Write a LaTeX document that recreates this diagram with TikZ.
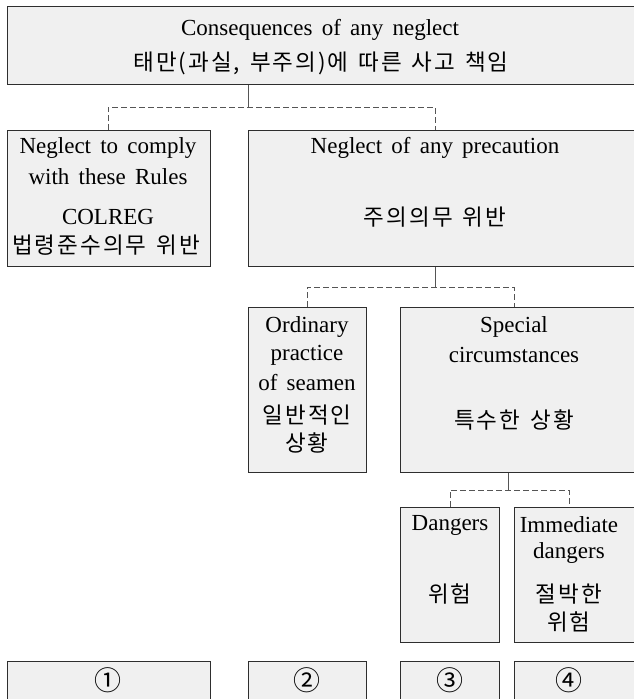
\documentclass[tikz,border=0pt]{standalone}
\usepackage{fontspec}
\setmainfont[WordSpace=1.6]{Liberation Serif}
\newfontfamily\kr[LetterSpace=9,WordSpace=1.4]{Noto Sans CJK KR}
\newfontfamily\circnum{Noto Sans CJK KR}
\usepackage{tikz}

\definecolor{boxfill}{HTML}{F0F0F0}
\definecolor{boxline}{HTML}{2E2E2E}
\definecolor{dashline}{HTML}{555555}

\begin{document}
\begin{tikzpicture}[x=1pt,y=-1pt,
  box/.style={draw=boxline,fill=boxfill,line width=0.9pt,inner sep=0pt,anchor=north west},
  txt/.style={inner sep=0pt,font=\fontsize{23}{27}\selectfont},
  krtxt/.style={inner sep=0pt,font=\kr\fontsize{22.5}{27}\selectfont},
  numtxt/.style={inner sep=0pt,font=\circnum\fontsize{27}{30}\selectfont},
  stem/.style={draw=dashline,line width=0.9pt},
  branch/.style={draw=dashline,line width=0.9pt,dash pattern=on 6pt off 3pt}]
\useasboundingbox (0,0) rectangle (634,699);
\clip (0,0) rectangle (634,699);

% boxes
\node[box,minimum width=640pt,minimum height=78pt] (top) at (7,6) {};
\node[box,minimum width=203pt,minimum height=136pt] (a) at (7,130) {};
\node[box,minimum width=400pt,minimum height=136pt] (b) at (248,130) {};
\node[box,minimum width=118pt,minimum height=165pt] (c) at (248,307) {};
\node[box,minimum width=240pt,minimum height=165pt] (d) at (400,307) {};
\node[box,minimum width=99pt,minimum height=135pt] (e) at (400,507) {};
\node[box,minimum width=130pt,minimum height=135pt] (f) at (514,507) {};
\node[box,minimum width=203pt,minimum height=60pt] (n1) at (7,661) {};
\node[box,minimum width=118pt,minimum height=60pt] (n2) at (248,661) {};
\node[box,minimum width=99pt,minimum height=60pt] (n3) at (400,661) {};
\node[box,minimum width=130pt,minimum height=60pt] (n4) at (514,661) {};

% texts
\node[txt] (topT) at (320,30) {Consequences of any neglect};
\node[krtxt] (topK) at (321,63) {태만(과실, 부주의)에 따른 사고 책임};
\node[txt] (aT) at (108,148) {Neglect to comply};
\node[txt] (aT2) at (108,177) {with these Rules};
\node[txt] (aT3) at (108,217) {COLREG};
\node[krtxt] (aK) at (106,245) {법령준수의무 위반};
\node[txt] (bT) at (435,148) {Neglect of any precaution};
\node[krtxt] (bK) at (435,217) {주의의무 위반};
\node[txt] (cT) at (307,327) {Ordinary};
\node[txt] (cT2) at (307,355) {practice};
\node[txt] (cT3) at (307,383) {of seamen};
\node[krtxt] (cK) at (307,415) {일반적인};
\node[krtxt] (cK2) at (307,443) {상황};
\node[txt] (dT) at (514,327) {Special};
\node[txt] (dT2) at (514,355) {circumstances};
\node[krtxt] (dK) at (514,420) {특수한 상황};
\node[txt] (eT) at (450,525) {Dangers};
\node[krtxt] (eK) at (450,594) {위험};
\node[txt] (fT) at (569,525) {Immediate};
\node[txt] (fT2) at (569,553) {dangers};
\node[krtxt] (fK) at (569,594) {절박한};
\node[krtxt] (fK2) at (569,622) {위험};
\node[numtxt] (n1T) at (108,680) {①};
\node[numtxt] (n2T) at (307,680) {②};
\node[numtxt] (n3T) at (450,680) {③};
\node[numtxt] (n4T) at (569,680) {④};

% connectors
\coordinate (j1) at (248,107);
\coordinate (j2) at (435,287);
\coordinate (j3) at (508,490);
\draw[stem] (j1 |- top.south) -- (j1);
\draw[branch] (aT |- a.north) -- (aT |- j1) -- (bT |- j1) -- (bT |- b.north);
\draw[stem] (j2 |- b.south) -- (j2);
\draw[branch] (cT |- c.north) -- (cT |- j2) -- (dT |- j2) -- (dT |- d.north);
\draw[stem] (j3 |- d.south) -- (j3);
\draw[branch] (eT |- e.north) -- (eT |- j3) -- (fT |- j3) -- (fT |- f.north);
\end{tikzpicture}
\end{document}
